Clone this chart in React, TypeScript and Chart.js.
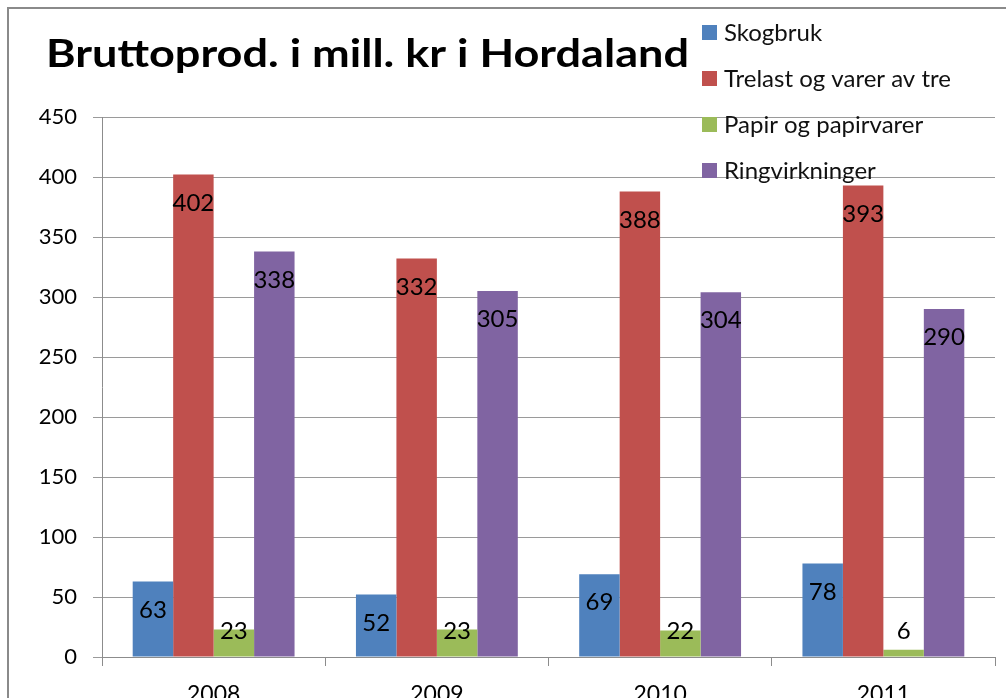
import React, { useEffect, useRef } from "react";
import { Chart, registerables } from "chart.js";

Chart.register(...registerables);

const years = ["2008", "2009", "2010", "2011"];
const skogbruk = [63, 52, 69, 78];
const trelast = [402, 332, 388, 393];
const papir = [23, 23, 22, 6];
const ringvirkninger = [338, 305, 304, 290];
const seriesNames = ["Skogbruk", "Trelast og varer av tre", "Papir og papirvarer", "Ringvirkninger"];
const seriesColors = ["#4F81BD", "#C0504D", "#9BBB59", "#8064A2"];
const titleText = "Bruttoprod. i mill. kr i Hordaland";
const yMax = 450;
const yStep = 50;

const FONT = "Lato, 'DejaVu Sans', sans-serif";

const decorPlugin = {
  id: "decor",
  beforeDraw(chart: any) {
    const ctx = chart.ctx;
    ctx.save();
    ctx.fillStyle = "#ffffff";
    ctx.fillRect(0, 0, chart.width, chart.height);
    ctx.restore();
  },
  afterDraw(chart: any) {
    const ctx = chart.ctx;
    ctx.save();
    // frame
    ctx.strokeStyle = "#8a8a8a";
    ctx.lineWidth = 2;
    ctx.beginPath();
    ctx.moveTo(8, chart.height + 5);
    ctx.lineTo(8, 8);
    ctx.lineTo(chart.width + 5, 8);
    ctx.stroke();

    // title
    ctx.fillStyle = "#000000";
    ctx.font = `bold 39px ${FONT}`;
    ctx.textBaseline = "alphabetic";
    ctx.textAlign = "left";
    const w = ctx.measureText(titleText).width;
    const target = 643;
    ctx.save();
    ctx.translate(46, 67);
    ctx.scale(target / w, 1);
    ctx.fillText(titleText, 0, 0);
    ctx.restore();

    // legend
    ctx.font = `24px ${FONT}`;
    ctx.textBaseline = "middle";
    seriesNames.forEach((name, i) => {
      const cy = 32 + i * 46;
      ctx.fillStyle = seriesColors[i];
      ctx.fillRect(702, cy - 7, 15, 15);
      ctx.fillStyle = "#111111";
      ctx.fillText(name, 724, cy + 1);
    });

    // data labels
    const base = chart.scales.y.getPixelForValue(0);
    ctx.font = `24px ${FONT}`;
    ctx.textAlign = "center";
    ctx.fillStyle = "#000000";
    chart.data.datasets.forEach((ds: any, di: number) => {
      const meta = chart.getDatasetMeta(di);
      meta.data.forEach((bar: any, i: number) => {
        const y = Math.min(bar.y + 28.5, base - 26);
        ctx.fillText(String(ds.data[i]), bar.x, y);
      });
    });
    ctx.restore();
  },
};

export default function App() {
  const ref = useRef<HTMLCanvasElement>(null);
  useEffect(() => {
    if (!ref.current) return;
    const lists = [skogbruk, trelast, papir, ringvirkninger];
    const chart = new Chart(ref.current, {
      type: "bar",
      data: {
        labels: years,
        datasets: lists.map((d, i) => ({
          label: seriesNames[i],
          data: d,
          backgroundColor: seriesColors[i],
          borderWidth: 0,
          categoryPercentage: 0.725,
          barPercentage: 1,
        })),
      },
      options: {
        responsive: false,
        animation: false,
        devicePixelRatio: 1,
        layout: { padding: { left: 0, top: 117, right: 11, bottom: 0 } },
        plugins: {
          legend: { display: false },
          title: { display: false },
          tooltip: { enabled: false },
        },
        scales: {
          x: {
            afterFit: (s: any) => {
              s.height = 73;
            },
            grid: {
              offset: true,
              drawOnChartArea: false,
              drawTicks: true,
              tickLength: 9,
              color: "#8c8c8c",
            },
            border: { display: true, color: "#8c8c8c", width: 1 },
            ticks: {
              color: "#000000",
              font: { family: FONT, size: 23 },
              padding: 15,
            },
          },
          y: {
            min: 0,
            max: yMax,
            afterFit: (s: any) => {
              s.width = 102;
            },
            grid: {
              color: "#9a9a9a",
              drawTicks: true,
              tickLength: 9,
            },
            border: { display: true, color: "#8c8c8c", width: 1 },
            ticks: {
              stepSize: yStep,
              color: "#000000",
              font: { family: FONT, size: 22 },
              padding: 16,
            },
          },
        },
      },
      plugins: [decorPlugin],
    });
    return () => chart.destroy();
  }, []);
  return (
    <div style={{ position: "fixed", left: 0, top: 0, width: 1006, height: 730, overflow: "hidden" }}>
      <canvas ref={ref} width={1006} height={730} style={{ display: "block" }} />
    </div>
  );
}
